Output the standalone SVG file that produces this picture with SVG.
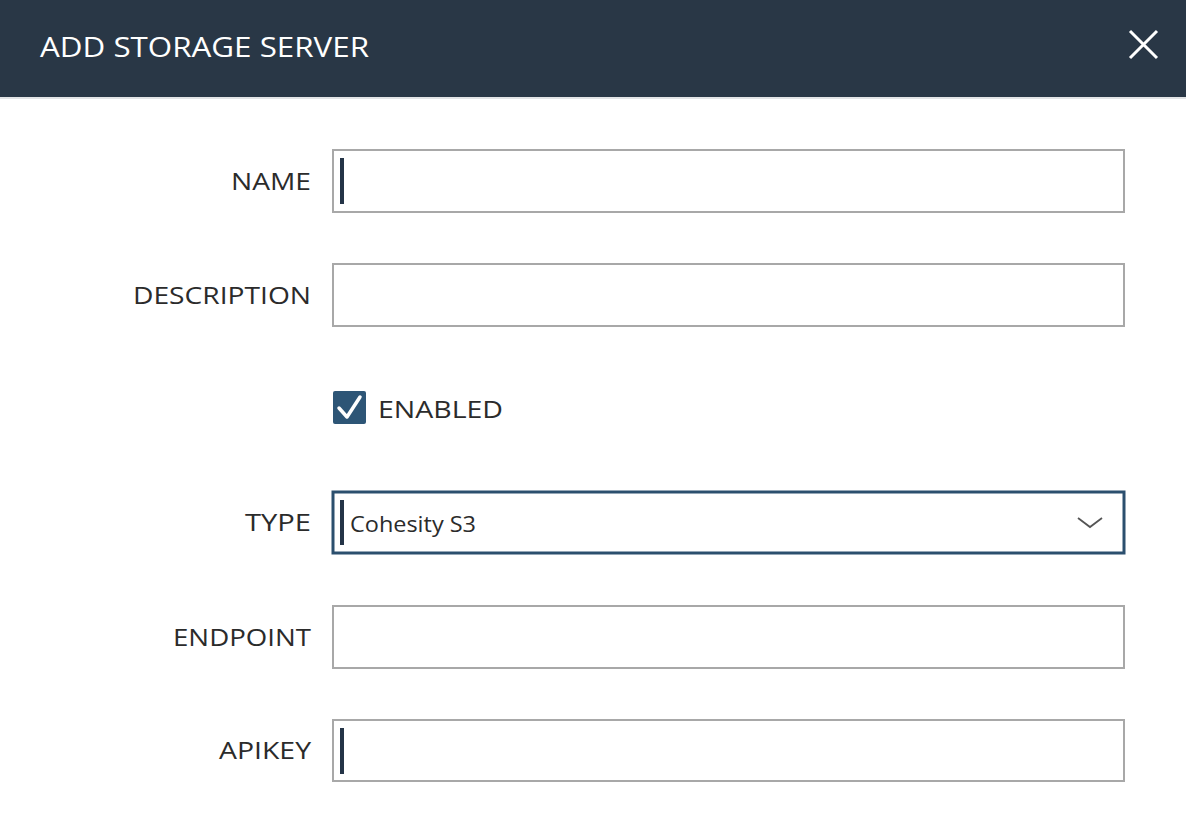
<svg xmlns="http://www.w3.org/2000/svg" width="1186" height="826" viewBox="0 0 1186 826">
<style>
.lbl{font-family:"Open Sans","Liberation Sans",sans-serif;font-size:24px;fill:#2b2b2b;text-anchor:end}
.fld{fill:#fff;stroke:#a8a8a8;stroke-width:2}
.cur{fill:#243447}
</style>
<rect width="1186" height="826" fill="#fff"/>
<g id="header">
<rect width="1186" height="97" fill="#293746"/>
<rect y="97" width="1186" height="2" fill="#e2e4e6"/>
<text x="40" y="57" font-family="'Open Sans','Liberation Sans',sans-serif" font-size="27" fill="#fff" textLength="329" lengthAdjust="spacingAndGlyphs">ADD STORAGE SERVER</text>
<path d="M1130 31L1157 58M1157 31L1130 58" stroke="#fff" stroke-width="3"/>
</g>
<g id="name">
<text class="lbl" x="311" y="190" textLength="80" lengthAdjust="spacingAndGlyphs">NAME</text>
<rect class="fld" x="333" y="150" width="791" height="62"/>
<rect class="cur" x="340" y="158" width="4" height="46"/>
</g>
<g id="description">
<text class="lbl" x="311" y="304" textLength="178" lengthAdjust="spacingAndGlyphs">DESCRIPTION</text>
<rect class="fld" x="333" y="264" width="791" height="62"/>
</g>
<g id="enabled">
<rect x="333" y="391" width="33" height="33" rx="2" fill="#2d5576"/>
<path d="M339 408L347 417L360 397" fill="none" stroke="#fff" stroke-width="3.5" stroke-linecap="round" stroke-linejoin="round"/>
<text x="378" y="418" font-family="'Open Sans','Liberation Sans',sans-serif" font-size="24" fill="#2b2b2b" textLength="125" lengthAdjust="spacingAndGlyphs">ENABLED</text>
</g>
<g id="type">
<text class="lbl" x="311" y="531" textLength="66" lengthAdjust="spacingAndGlyphs">TYPE</text>
<rect x="333" y="492" width="791" height="61" fill="#fff" stroke="#2b4f6e" stroke-width="3"/>
<rect class="cur" x="340" y="500" width="4" height="45"/>
<text x="350" y="532" font-family="'Open Sans','Liberation Sans',sans-serif" font-size="21" fill="#2b2b2b" textLength="126" lengthAdjust="spacingAndGlyphs">Cohesity S3</text>
<path d="M1078 518L1090 527L1102 518" fill="none" stroke="#555" stroke-width="1.8"/>
</g>
<g id="endpoint">
<text class="lbl" x="311" y="646" textLength="138" lengthAdjust="spacingAndGlyphs">ENDPOINT</text>
<rect class="fld" x="333" y="606" width="791" height="62"/>
</g>
<g id="apikey">
<text class="lbl" x="311" y="759" textLength="92" lengthAdjust="spacingAndGlyphs">APIKEY</text>
<rect class="fld" x="333" y="720" width="791" height="61"/>
<rect class="cur" x="340" y="728" width="4" height="46"/>
</g>
</svg>
